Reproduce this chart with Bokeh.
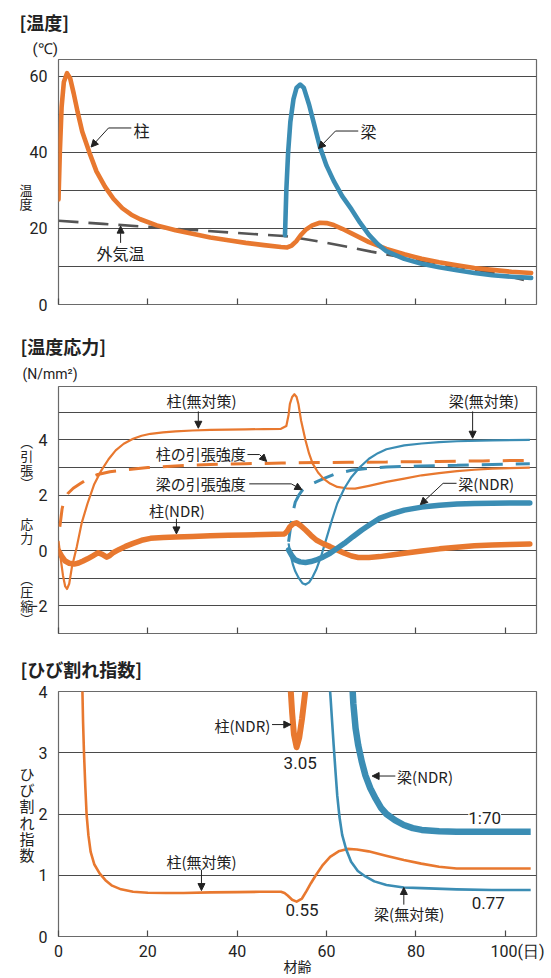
from bokeh.plotting import figure
from bokeh.layouts import column
from bokeh.models import Range1d, FixedTicker, Label, Arrow, NormalHead, Title, Axis
from bokeh.embed import file_html
from bokeh.resources import INLINE

ORANGE = "#E8782F"
BLUE = "#3B8DB4"
GRID = "#4a4a4a"
INK = "#222222"
JP = "Noto Sans CJK JP"
NUM = "Roboto"

# ---------------- data: temperature (deg C) ----------------
col_temp_x = [0, 0.3, 0.7, 1.2, 1.9, 2.6, 3.4, 4.3, 5.3, 6.9, 8.5, 10.4, 12.3, 14.3, 16.3, 18.3, 22, 26.2, 30, 34, 38,
              41.9, 46, 49.8, 51.2, 52.2, 53.2, 54.2, 55.3, 56.8, 58.5, 60, 61.6, 63.5, 65.6, 69.5, 73.4, 77.4, 81.3,
              85.2, 89.2, 93.1, 97.1, 101.4, 105.8]
col_temp = [27.6, 40, 52, 58.5, 60.8, 59.5, 55.5, 50.5, 45.5, 40, 35, 31, 27.8, 25.3, 23.6, 22.4, 20.8, 19.5, 18.6,
            17.6, 16.9, 16.2, 15.6, 15.1, 15.0, 15.5, 16.6, 18.2, 19.6, 20.8, 21.5, 21.4, 20.9, 19.9, 18.7, 16.4,
            14.6, 13.2, 12.0, 11.1, 10.3, 9.6, 9.1, 8.6, 8.3]
beam_temp_x = [50.7, 51.0, 51.4, 51.9, 52.6, 53.3, 54.1, 54.9, 56.1, 57.3, 58.5, 60, 61.6, 63.5, 65.6, 67.5, 69.5,
               71.5, 73.4, 77.4, 81.3, 85.2, 89.2, 93.1, 97.1, 101.4, 105.8]
beam_temp = [18.2, 30, 40, 48, 54, 57, 57.8, 57, 52.5, 47, 41.5, 36.5, 32.5, 28.5, 25.0, 21.5, 18.3, 15.8, 14.0,
             12.0, 10.7, 9.8, 9.0, 8.3, 7.7, 7.3, 7.0]
air_temp_x = [0, 10, 20, 30, 40, 50.5, 53, 56, 60, 65, 70, 75, 80, 85, 90, 95, 100, 105.8]
air_temp = [22.0, 21.2, 20.4, 19.6, 18.8, 18.0, 17.6, 17.0, 16.2, 15.1, 13.9, 12.8, 11.8, 10.8, 9.8, 8.8, 7.6, 6.0]

# ---------------- data: thermal stress (N/mm2) ----------------
col_plain_x = [0, 0.5, 1.0, 1.5, 1.9, 2.4, 3.0, 4.1, 5.2, 6.5, 8.0, 9.6, 11.2, 12.8, 14.6, 16.7, 18.6, 20.6, 23.4,
               26.2, 30, 34, 38, 41.9, 46, 49.8, 51.0, 51.5, 51.8, 52.3, 52.8, 53.3, 53.7, 54.3, 55.3, 56.1, 56.9,
               58.1, 59.3, 60.8, 62.4, 64.4, 66.4, 69.5, 73.4, 77.4, 81.3, 85.2, 89.2, 93.1, 97.1, 101, 105.5]
col_plain = [0.35, -0.3, -0.9, -1.3, -1.39, -1.2, -0.6, 0.14, 1.0, 1.7, 2.4, 2.9, 3.3, 3.62, 3.86, 4.04, 4.15, 4.22,
             4.27, 4.31, 4.34, 4.36, 4.37, 4.38, 4.39, 4.4, 4.5, 4.9, 5.3, 5.55, 5.65, 5.55, 5.3, 4.7, 3.98, 3.5,
             3.14, 2.82, 2.6, 2.42, 2.3, 2.25, 2.24, 2.34, 2.48, 2.6, 2.72, 2.8, 2.87, 2.92, 2.96, 2.98, 3.0]
col_str_x = [0.3, 0.8, 1.3, 2.1, 3.3, 4.9, 6.8, 8.8, 11.5, 14.3, 20, 26.2, 34, 41.9, 50, 57.7, 65, 73.4, 85, 95, 105.5]
col_str = [0.86, 1.5, 1.85, 2.06, 2.25, 2.42, 2.62, 2.75, 2.85, 2.9, 3.0, 3.06, 3.11, 3.14, 3.16, 3.18, 3.19, 3.2,
           3.22, 3.24, 3.26]
beam_str_x = [51.5, 52.0, 52.5, 53.0, 53.8, 54.6, 56.0, 57.7, 59.6, 61.6, 63.5, 65.6, 69.5, 73.4, 81.3, 89.2, 97.1,
              105.5]
beam_str = [0.32, 0.9, 1.4, 1.75, 2.0, 2.18, 2.35, 2.48, 2.62, 2.75, 2.83, 2.9, 2.97, 3.02, 3.06, 3.08, 3.11, 3.14]
beam_plain_x = [51.5, 52.0, 52.5, 53.0, 53.8, 54.6, 55.3, 56.1, 56.9, 57.7, 58.8, 60.0, 61.2, 62.4, 64.0, 65.6, 67.5,
                69.5, 71.5, 73.4, 77.4, 81.3, 85.2, 89.2, 97.1, 105.5]
beam_plain = [0.26, -0.2, -0.52, -0.75, -1.0, -1.18, -1.23, -1.15, -0.95, -0.69, -0.2, 0.45, 1.1, 1.7, 2.25, 2.66,
              3.02, 3.32, 3.52, 3.66, 3.8, 3.87, 3.92, 3.95, 3.98, 4.0]
col_ndr_x = [0, 0.7, 1.5, 2.4, 3.5, 4.5, 5.5, 6.5, 7.6, 8.9, 9.8, 10.8, 11.5, 12.3, 13.6, 15.0, 16.7, 18.6, 20.6,
             23.4, 26.2, 30, 34, 38, 41.9, 46, 50.6, 51.2, 51.8, 52.5, 53.3, 54.2, 55.3, 56.5, 57.7, 59.2, 60.8,
             62.4, 64.0, 65.6, 67.1, 69.5, 71.9, 74.6, 77.4, 81.3, 85.3, 89.2, 93.1, 97.1, 101, 105.5]
col_ndr = [0.0, -0.2, -0.38, -0.46, -0.49, -0.45, -0.38, -0.3, -0.2, -0.08, -0.14, -0.24, -0.18, -0.07, 0.04, 0.15,
           0.26, 0.37, 0.44, 0.47, 0.49, 0.51, 0.53, 0.55, 0.56, 0.58, 0.6, 0.7, 0.86, 0.96, 1.0, 0.9, 0.74, 0.55,
           0.38, 0.25, 0.14, 0.02, -0.1, -0.2, -0.25, -0.25, -0.22, -0.16, -0.1, -0.02, 0.06, 0.12, 0.17, 0.2,
           0.22, 0.24]
beam_ndr_x = [51.5, 52.2, 53.0, 54.1, 55.3, 56.5, 57.7, 59.2, 60.8, 62.4, 64.0, 65.9, 67.9, 69.9, 71.9, 74.6, 77.4,
              81.3, 85.3, 89.2, 93.1, 97.1, 101, 105.5]
beam_ndr = [0.02, -0.18, -0.34, -0.41, -0.43, -0.4, -0.34, -0.24, -0.1, 0.08, 0.26, 0.5, 0.74, 0.96, 1.16, 1.33,
            1.46, 1.57, 1.64, 1.68, 1.7, 1.71, 1.72, 1.72]

# ---------------- data: cracking index ----------------
ci_col_plain_x = [5.3, 5.5, 5.7, 6.0, 6.3, 6.7, 7.2, 8.0, 9.2, 10.5, 12.0, 14.0, 16.7, 20, 24, 28, 34, 40, 45, 49.8,
                  50.6, 51.3, 52.3, 53.3, 54.5, 55.5, 56.5, 57.6, 59.2, 60.8, 62.7, 64.7, 66.8, 69.4, 73.3, 77.3,
                  81.2, 85.2, 89.1, 95, 100, 105.7]
ci_col_plain = [4.2, 3.5, 3.01, 2.45, 1.98, 1.65, 1.38, 1.18, 1.03, 0.92, 0.83, 0.77, 0.73, 0.715, 0.71, 0.71, 0.72,
                0.725, 0.73, 0.73, 0.71, 0.67, 0.6, 0.57, 0.62, 0.74, 0.87, 1.0, 1.17, 1.3, 1.39, 1.43, 1.42, 1.39,
                1.32, 1.25, 1.19, 1.14, 1.11, 1.11, 1.11, 1.11]
ci_col_ndr_x = [51.8, 52.0, 52.3, 52.7, 53.3, 53.9, 54.5, 55.0, 55.4, 55.7]
ci_col_ndr = [4.3, 4.0, 3.65, 3.3, 3.09, 3.25, 3.55, 3.85, 4.1, 4.3]
ci_beam_plain_x = [60.6, 60.9, 61.3, 61.6, 62.0, 62.4, 62.9, 63.5, 64.4, 65.5, 67.0, 68.7, 70.7, 73.4, 77.3, 81.3,
                   89.1, 97, 105.7]
ci_beam_plain = [4.2, 3.9, 3.45, 3.12, 2.7, 2.3, 1.95, 1.66, 1.42, 1.22, 1.07, 0.98, 0.9, 0.84, 0.8, 0.79, 0.77,
                 0.76, 0.76]
ci_beam_ndr_x = [65.7, 66.0, 66.5, 67.1, 67.9, 68.7, 69.8, 71.0, 72.2, 73.4, 75.3, 77.3, 79.3, 81.3, 85.2, 89.1, 97,
                 105.7]
ci_beam_ndr = [4.2, 3.8, 3.4, 3.12, 2.85, 2.63, 2.42, 2.25, 2.1, 2.0, 1.9, 1.82, 1.77, 1.74, 1.72, 1.71, 1.71, 1.71]

x_ticks = [0, 20, 40, 60, 80, 100]
x_tick_labels = ["0", "20", "40", "60", "80", "\u2003\u2002100(日)"]
temp_ticks = [0, 20, 40, 60]
temp_minor = [10, 30, 50]
stress_ticks = [-2, 0, 2, 4]
stress_minor = [-1, 1, 3, 5]
ci_ticks = [0, 1, 2, 3, 4]

X_MAX = 107.0
BL = "\u3000"  # blank line filler for stacked vertical titles
HAS_ORIENT = "axis_label_orientation" in Axis.properties()


def make_fig(height, ymin, ymax, top, bottom, yticks, yminor, show_x_labels):
    p = figure(width=551, height=height, x_range=Range1d(0, X_MAX), y_range=Range1d(ymin, ymax),
               output_backend="svg", toolbar_location=None,
               min_border_left=58, min_border_right=15, min_border_top=top, min_border_bottom=bottom)
    p.background_fill_color = "white"
    p.border_fill_color = "white"
    p.outline_line_color = "#6a6a6a"
    p.outline_line_width = 1.2
    p.xgrid.visible = False
    p.yaxis.ticker = FixedTicker(ticks=yticks, minor_ticks=yminor)
    p.ygrid.grid_line_color = GRID
    p.ygrid.grid_line_width = 1.2
    p.ygrid.minor_grid_line_color = GRID if yminor else None
    p.ygrid.minor_grid_line_width = 1.2
    p.yaxis.axis_line_color = None
    p.yaxis.major_tick_line_color = None
    p.yaxis.minor_tick_line_color = None
    p.yaxis.major_label_standoff = 5
    p.yaxis.major_label_text_font = NUM
    p.yaxis.major_label_text_font_size = "16px"
    p.yaxis.major_label_text_color = INK
    p.xaxis.ticker = FixedTicker(ticks=x_ticks)
    p.xaxis.axis_line_color = None
    p.xaxis.major_tick_in = 6
    p.xaxis.major_tick_out = 0
    p.xaxis.major_tick_line_color = GRID
    p.xaxis.major_tick_line_width = 1.2
    p.xaxis.minor_tick_line_color = None
    p.xaxis.major_label_text_font = NUM
    p.xaxis.major_label_text_font_size = "16px"
    p.xaxis.major_label_text_color = INK
    if show_x_labels:
        p.xaxis.major_label_overrides = {t: s for t, s in zip(x_ticks, x_tick_labels)}
        p.xaxis.major_label_standoff = 5
    else:
        p.xaxis.major_label_overrides = {t: "" for t in x_ticks}
        p.xaxis.major_label_standoff = 0
    p.title.visible = False
    return p


def y_title(p, lines, size, line_height, standoff):
    p.yaxis.axis_label = "\n".join(lines)
    p.yaxis.axis_label_text_font = JP
    p.yaxis.axis_label_text_font_size = size
    p.yaxis.axis_label_text_font_style = "normal"
    p.yaxis.axis_label_text_color = INK
    p.yaxis.axis_label_text_line_height = line_height
    try:
        p.yaxis.axis_label_standoff = standoff
    except Exception:
        p.yaxis.axis_label_standoff = 0
    if HAS_ORIENT:
        p.yaxis.axis_label_orientation = "horizontal"


def head_titles(p, items):
    # items listed from nearest the frame outward
    for text, font, size, style, offset, standoff, valign in items:
        p.add_layout(Title(text=text, align="left", offset=offset, text_font=font, text_font_size=size,
                           text_font_style=style, text_color=INK, standoff=standoff,
                           vertical_align=valign), "above")


def lab(p, x, y, text, size="15px", align="left", font=JP, style="normal", bg=None):
    kw = dict(x=x, y=y, text=text, text_font=font, text_font_size=size, text_align=align,
              text_baseline="middle", text_color=INK, text_font_style=style)
    if bg:
        kw["background_fill_color"] = bg
    p.add_layout(Label(**kw))


def arrow(p, x0, y0, x1, y1):
    p.add_layout(Arrow(end=NormalHead(size=7, fill_color=INK, line_color=INK, line_width=1),
                       x_start=x0, y_start=y0, x_end=x1, y_end=y1, line_color=INK, line_width=1))


def leader(p, xs, ys):
    p.line(xs, ys, line_color=INK, line_width=1)


# ---------------- panel 1: temperature ----------------
p1 = make_fig(326, 0, 64.4, 59, 22, temp_ticks, temp_minor, False)
p1.line(air_temp_x, air_temp, line_color="#555555", line_width=2.6, line_dash="20 10")
p1.line(col_temp_x, col_temp, line_color=ORANGE, line_width=4.6, line_join="round", line_cap="round")
p1.line(beam_temp_x, beam_temp, line_color=BLUE, line_width=4.6, line_join="round", line_cap="round")
leader(p1, [16.3, 11.2], [46.4, 46.4])
arrow(p1, 11.2, 46.4, 7.3, 41.4)
lab(p1, 16.8, 46.0, "柱", size="16px")
leader(p1, [67.1, 62.0], [45.6, 45.6])
arrow(p1, 62.0, 45.6, 58.2, 41.0)
lab(p1, 67.6, 45.6, "梁", size="16px")
arrow(p1, 13.9, 16.2, 13.9, 20.6)
lab(p1, 13.9, 13.6, "外気温", size="16px", align="center")
head_titles(p1, [("(℃)", NUM, "15px", "normal", -26, 4, "bottom"),
                 ("[温度]", JP, "18px", "bold", -39, 2, "bottom")])
y_title(p1, [BL, BL, "温", "度"], "13px", 0.77, -6)

# ---------------- panel 2: thermal stress ----------------
p2 = make_fig(320, -3.0, 5.93, 60, 13, stress_ticks, stress_minor, False)
p2.line(col_str_x, col_str, line_color=ORANGE, line_width=3, line_dash="21 13")
p2.line(beam_str_x, beam_str, line_color=BLUE, line_width=3, line_dash="21 13")
p2.line(col_plain_x, col_plain, line_color=ORANGE, line_width=2.2, line_join="round")
p2.line(beam_plain_x, beam_plain, line_color=BLUE, line_width=2.2, line_join="round")
p2.line(col_ndr_x, col_ndr, line_color=ORANGE, line_width=5.5, line_join="round", line_cap="round")
p2.line(beam_ndr_x, beam_ndr, line_color=BLUE, line_width=5.5, line_join="round", line_cap="round")
lab(p2, 32.0, 5.42, "柱(無対策)", size="15px", align="center")
arrow(p2, 31.3, 5.03, 31.3, 4.42)
lab(p2, 41.9, 3.49, "柱の引張強度", size="15px", align="right")
leader(p2, [42.3, 45.0], [3.47, 3.47])
arrow(p2, 45.0, 3.47, 46.6, 3.22)
lab(p2, 41.9, 2.43, "梁の引張強度", size="15px", align="right")
leader(p2, [42.7, 52.1], [2.41, 2.41])
arrow(p2, 52.1, 2.41, 54.5, 2.2)
lab(p2, 95.2, 5.42, "梁(無対策)", size="15px", align="center")
arrow(p2, 92.7, 5.03, 92.7, 4.06)
lab(p2, 26.5, 1.45, "柱(NDR)", size="15px", align="center")
arrow(p2, 26.4, 1.15, 26.4, 0.6)
lab(p2, 89.5, 2.41, "梁(NDR)", size="15px")
leader(p2, [89.1, 86.1], [2.43, 2.43])
arrow(p2, 86.1, 2.43, 81.0, 1.66)
head_titles(p2, [("(N/mm²)", NUM, "14px", "normal", -36, 9, "bottom"),
                 ("[温度応力]", JP, "18px", "bold", -38, 2, "bottom")])
y_title(p2, [BL, BL, BL, "︵", "引", "張", "︶", BL, BL, "応", "力", BL, BL, "︵", "圧", "縮", "︶"],
        "13px", 0.716, -7)

# ---------------- panel 3: cracking index ----------------
p3 = make_fig(332, 0, 4, 45, 41, ci_ticks, [], True)
p3.line(ci_col_plain_x, ci_col_plain, line_color=ORANGE, line_width=2.6, line_join="round")
p3.line(ci_beam_plain_x, ci_beam_plain, line_color=BLUE, line_width=2.6, line_join="round")
p3.line(ci_col_ndr_x, ci_col_ndr, line_color=ORANGE, line_width=6, line_join="round")
p3.line(ci_beam_ndr_x, ci_beam_ndr, line_color=BLUE, line_width=6.5, line_join="round")
lab(p3, 47.4, 3.45, "柱(NDR)", size="15px", align="right")
arrow(p3, 47.8, 3.46, 52.0, 3.46)
lab(p3, 54.1, 2.84, "3.05", size="17px", align="center", font=NUM)
lab(p3, 75.8, 2.61, "梁(NDR)", size="15px")
arrow(p3, 75.4, 2.62, 70.2, 2.62)
lab(p3, 95.4, 1.94, "1:70", size="17px", align="center", font=NUM, bg="white")
lab(p3, 32.0, 1.23, "柱(無対策)", size="15px", align="center")
arrow(p3, 32.0, 1.09, 32.0, 0.75)
lab(p3, 54.5, 0.43, "0.55", size="17px", align="center", font=NUM)
lab(p3, 78.5, 0.38, "梁(無対策)", size="15px", align="center")
arrow(p3, 77.3, 0.52, 77.3, 0.8)
lab(p3, 96.2, 0.54, "0.77", size="17px", align="center", font=NUM)
head_titles(p3, [("[ひび割れ指数]", JP, "18px", "bold", -38, 15, "top")])
y_title(p3, ["ひ", "び", "割", "れ", "指", "数"], "15px", 0.768, 1)
p3.xaxis.axis_label = "材齢"
p3.xaxis.axis_label_text_font = JP
p3.xaxis.axis_label_text_font_size = "14px"
p3.xaxis.axis_label_text_font_style = "normal"
p3.xaxis.axis_label_text_color = INK
try:
    p3.xaxis.axis_label_standoff = -8
except Exception:
    p3.xaxis.axis_label_standoff = 0

layout = column(p1, p2, p3, spacing=0)
with open("out.html", "w", encoding="utf-8") as f:
    f.write(file_html(layout, INLINE, title="温度・温度応力・ひび割れ指数"))
